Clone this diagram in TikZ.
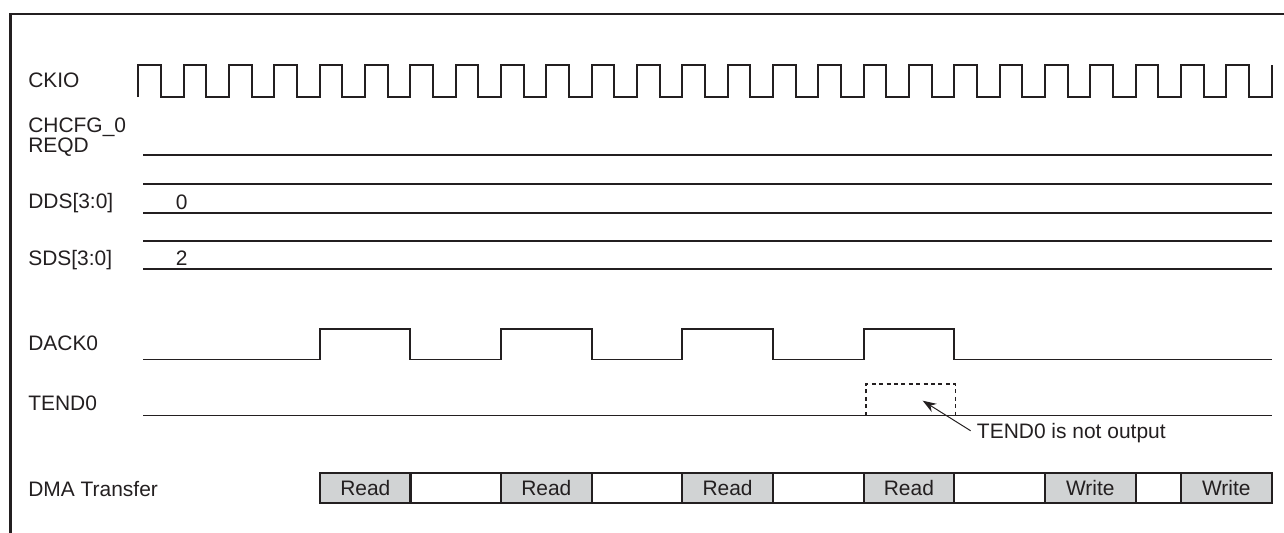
\documentclass[tikz,border=0pt]{standalone}
\usepackage{fontspec}
\setmainfont{Liberation Sans}
\usepackage{xcolor}
\usepackage{tikz}
\usetikzlibrary{arrows.meta}
\definecolor{ink}{HTML}{231F20}
\definecolor{slotgray}{HTML}{D1D3D4}

\begin{document}
\begin{tikzpicture}[x=0.025cm, y=-0.025cm,
    font=\fontsize{14.9}{17}\selectfont,
    sig/.style={draw=ink, line width=1.4pt},
    lbl/.style={anchor=base west, inner sep=0pt, text=ink},
    slot/.style={rectangle, draw=ink, line width=1.4pt, inner sep=0pt,
                 minimum height=0.75cm, minimum width=2.267cm, text=ink},
    rd/.style={slot, fill=slotgray},
    arrow/.style={-{Stealth[length=3.4mm, width=2.4mm]}, draw=ink, line width=0.7pt}]
  \useasboundingbox (0,0) rectangle (1284,533);
  \draw[ink, line width=1.9pt] (10.5,533) -- (10.5,14) -- (1284,14);

  % signal names
  \node[lbl] (ckio) at (28,87.3) {CKIO};
  \node[lbl] (chcfg) at (28,132.7) {CHCFG\_0};
  \node[lbl] (reqd) at (28,152.2) {REQD};
  \node[lbl] (dds) at (28,208.7) {DDS[3:0]};
  \node[lbl] (sds) at (28,265) {SDS[3:0]};
  \node[lbl] (dack) at (28,350) {DACK0};
  \node[lbl] (tend) at (28,410) {TEND0};
  \node[lbl] (dma) at (28,496.5) {DMA Transfer};

  % waveforms
  \draw[sig] (138.3,97) foreach \k in {0,...,24} {
      -- ++(0,-32) -- ++(22.67,0) -- ++(0,32) -- ++(22.66,0)} -- ++(0,-32);
  \draw[sig] (143,155) -- (1271.6,155);
  \draw[sig] (143,184) -- (1271.6,184);
  \draw[sig] (143,212.7) -- (1271.6,212.7);
  \node[lbl] (ddsval) at (175.7,209.5) {0};
  \draw[sig] (143,240.7) -- (1271.6,240.7);
  \draw[sig] (143,269.3) -- (1271.6,269.3);
  \node[lbl] (sdsval) at (175.7,265.8) {2};
  \draw[sig] (143,359.5) foreach \s in {319.6,501,682.3,863.6} {
      -- (\s,359.5) -- (\s,329) -- (\s+90.6,329) -- (\s+90.6,359.5)} -- (1271.6,359.5);
  \draw[sig] (143,415.5) -- (1271.6,415.5);
  \draw[sig, dash pattern=on 0.1cm off 0.085cm] (866,415.5) -- (866,384.3) -- (955.5,384.3) -- (955.5,415.5);

  % note
  \node[anchor=west, inner xsep=0.15cm, inner ysep=0pt, text depth=0pt, text=ink] (tendnote) at (970.7,430.8) {TEND0 is not output};
  \coordinate (tendtip) at (922.7,400.7);
  \draw[arrow] (tendnote.west) -- (tendtip);

  % transfers
  \node[rd] (rd1) at (365.3,488) {Read};
  \node[slot] (gap1) at (455.7,488) {};
  \node[rd] (rd2) at (546.3,488) {Read};
  \node[slot] (gap2) at (637,488) {};
  \node[rd] (rd3) at (727.6,488) {Read};
  \node[slot] (gap3) at (818.3,488) {};
  \node[rd] (rd4) at (908.9,488) {Read};
  \node[slot] (gap4) at (999.6,488) {};
  \node[rd] (wr1) at (1090.3,488) {Write};
  \node[slot, minimum width=1.133cm] (gap5) at (1158.3,488) {};
  \node[rd] (wr2) at (1226.3,488) {Write};
\end{tikzpicture}
\end{document}
